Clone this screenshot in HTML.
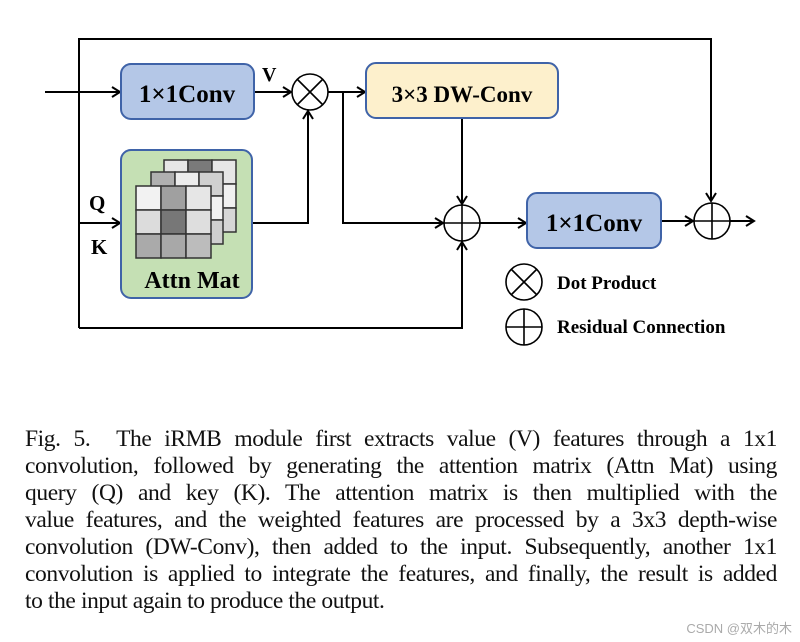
<!DOCTYPE html>
<html><head><meta charset="utf-8"><style>
body{margin:0;width:800px;height:642px;background:#fff;position:relative;overflow:hidden}
.cap{position:absolute;left:25px;top:426px;width:752px;font-family:"Liberation Serif",serif;font-size:23.5px;line-height:27px;letter-spacing:-0.4px;color:#111}
.cap div{text-align:justify;text-align-last:justify;white-space:nowrap}
.cap div.l{text-align-last:left}
.wm{position:absolute;right:8px;top:618px;font-family:"Liberation Sans","Noto Sans CJK SC",sans-serif;font-size:13px;color:#aaa}
</style></head><body>
<svg width="800" height="642" style="position:absolute;left:0;top:0" font-family="Liberation Serif,serif" font-weight="bold">
<defs><marker id="a" markerWidth="12" markerHeight="12" refX="10" refY="6" orient="auto" markerUnits="userSpaceOnUse"><path d="M2,1 L10,6 L2,11" fill="none" stroke="#000" stroke-width="2"/></marker></defs>
<g stroke="#000" stroke-width="2" fill="none">
<polyline points="79,328 79,39 711,39 711,201" marker-end="url(#a)"/>
<line x1="45" y1="92" x2="120" y2="92" marker-end="url(#a)"/>
<line x1="254" y1="92" x2="291" y2="92" marker-end="url(#a)"/>
<line x1="79" y1="223" x2="120" y2="223" marker-end="url(#a)"/>
<polyline points="252,223 308,223 308,111" marker-end="url(#a)"/>
<line x1="328" y1="92" x2="365" y2="92" marker-end="url(#a)"/>
<polyline points="343,92 343,223 443,223" marker-end="url(#a)"/>
<line x1="462" y1="118" x2="462" y2="204" marker-end="url(#a)"/>
<polyline points="79,328 462,328 462,242" marker-end="url(#a)"/>
<line x1="480" y1="223" x2="526" y2="223" marker-end="url(#a)"/>
<line x1="661" y1="221" x2="693" y2="221" marker-end="url(#a)"/>
<line x1="730" y1="221" x2="754" y2="221" marker-end="url(#a)"/>
</g>
<rect x="121" y="64" width="133" height="55" rx="10" fill="#b4c7e7" stroke="#3f63a8" stroke-width="2"/>
<text x="187" y="102" font-size="25" text-anchor="middle">1×1Conv</text>
<text x="262" y="81" font-size="20">V</text>
<rect x="366" y="63" width="192" height="55" rx="10" fill="#fdf0cc" stroke="#3f63a8" stroke-width="2"/>
<text x="462" y="102" font-size="23" text-anchor="middle">3×3 DW-Conv</text>
<rect x="527" y="193" width="134" height="55" rx="10" fill="#b4c7e7" stroke="#3f63a8" stroke-width="2"/>
<text x="594" y="231" font-size="25" text-anchor="middle">1×1Conv</text>
<rect x="121" y="150" width="131" height="148" rx="10" fill="#c5e0b4" stroke="#3f63a8" stroke-width="2"/>
<g stroke="#333" stroke-width="1.5">
<g transform="translate(164,160)"><rect width="24" height="24" fill="#e6e6e6"/><rect x="24" width="24" height="24" fill="#7a7a7a"/><rect x="48" width="24" height="24" fill="#e6e6e6"/><rect x="48" y="24" width="24" height="24" fill="#f0f0f0"/><rect x="48" y="48" width="24" height="24" fill="#d6d6d6"/></g>
<g transform="translate(151,172)"><rect width="24" height="24" fill="#b0b0b0"/><rect x="24" width="24" height="24" fill="#ececec"/><rect x="48" width="24" height="24" fill="#d0d0d0"/><rect x="48" y="24" width="24" height="24" fill="#f2f2f2"/><rect x="48" y="48" width="24" height="24" fill="#cfcfcf"/></g>
<g transform="translate(136,186)"><rect width="25" height="24" fill="#f2f2f2"/><rect x="25" width="25" height="24" fill="#a0a0a0"/><rect x="50" width="25" height="24" fill="#e6e6e6"/><rect y="24" width="25" height="24" fill="#dcdcdc"/><rect x="25" y="24" width="25" height="24" fill="#777"/><rect x="50" y="24" width="25" height="24" fill="#dedede"/><rect y="48" width="25" height="24" fill="#aaa"/><rect x="25" y="48" width="25" height="24" fill="#a8a8a8"/><rect x="50" y="48" width="25" height="24" fill="#bcbcbc"/></g>
</g>
<text x="192" y="288" font-size="24" text-anchor="middle">Attn Mat</text>
<text x="89" y="210" font-size="21">Q</text>
<text x="91" y="254" font-size="21">K</text>
<g stroke="#000" stroke-width="1.6" fill="#fff">
<circle cx="310" cy="92" r="18"/><path d="M297,79 L323,105 M323,79 L297,105"/>
<circle cx="462" cy="223" r="18"/><path d="M444,223 H480 M462,205 V241"/>
<circle cx="712" cy="221" r="18"/><path d="M694,221 H730 M712,203 V239"/>
<circle cx="524" cy="282" r="18"/><path d="M511,269 L537,295 M537,269 L511,295"/>
<circle cx="524" cy="327" r="18"/><path d="M506,327 H542 M524,309 V345"/>
</g>
<text x="557" y="289" font-size="19">Dot Product</text>
<text x="557" y="333" font-size="19">Residual Connection</text>
</svg>
<div class="cap">
<div>Fig. 5.&nbsp;&nbsp;The iRMB module first extracts value (V) features through a 1x1</div>
<div>convolution, followed by generating the attention matrix (Attn Mat) using</div>
<div>query (Q) and key (K). The attention matrix is then multiplied with the</div>
<div>value features, and the weighted features are processed by a 3x3 depth-wise</div>
<div>convolution (DW-Conv), then added to the input. Subsequently, another 1x1</div>
<div>convolution is applied to integrate the features, and finally, the result is added</div>
<div class="l">to the input again to produce the output.</div>
</div>
<div class="wm">CSDN @双木的木</div>
</body></html>
